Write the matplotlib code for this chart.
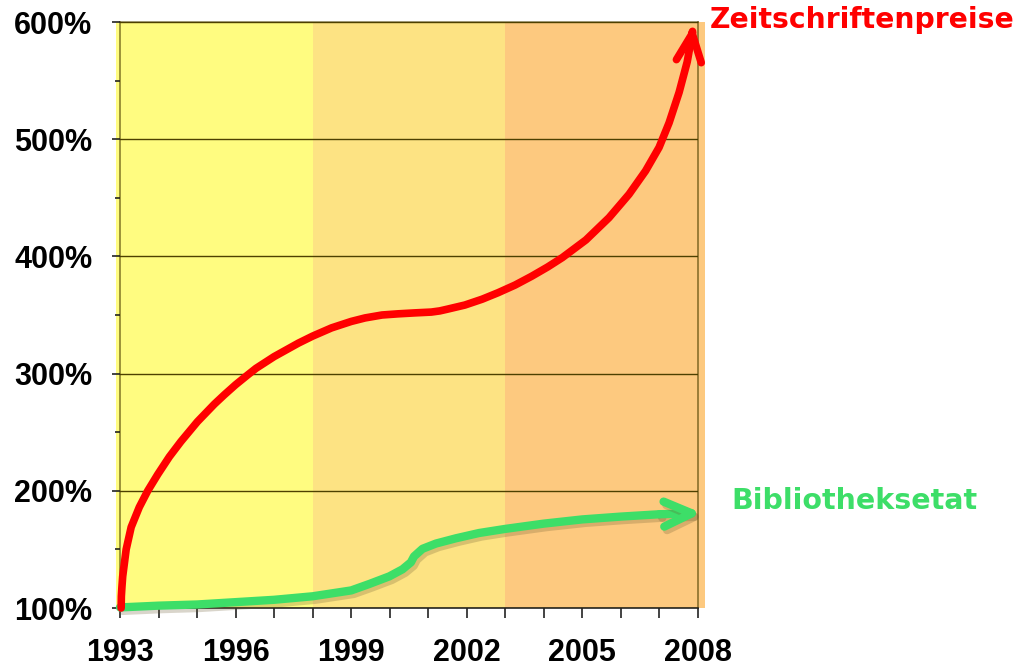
import matplotlib
matplotlib.use("Agg")
import matplotlib.pyplot as plt
import matplotlib.patheffects as pe
from matplotlib.ticker import FixedLocator, MultipleLocator, FuncFormatter

# ---- data -----------------------------------------------------------
years_preise = [1993.03, 1993.035, 1993.05, 1993.07, 1993.16, 1993.29, 1993.5,
                1993.72, 1993.98, 1994.28, 1994.58, 1995.01, 1995.45, 1995.71,
                1996.0, 1996.3, 1996.53, 1997.0, 1997.63, 1998.0, 1998.49,
                1999.0, 1999.36, 1999.8, 2000.22, 2000.65, 2001.08, 2001.3,
                2001.5, 2001.95, 2002.4, 2002.81, 2003.25, 2003.68, 2004.1,
                2004.48, 2005.09, 2005.69, 2006.21, 2006.64, 2006.99, 2007.25,
                2007.51, 2007.72, 2007.85, 2007.88]
vals_preise = [100, 110, 118, 127, 150, 169, 186,
               200, 214, 229, 242, 259, 274, 282,
               290.5, 298.5, 304.5, 314.5, 326, 332, 339,
               344.5, 347.5, 350, 351, 351.8, 352.5, 353.5,
               355, 358.5, 363.5, 369, 375.5, 383, 391,
               399, 414, 433, 453, 473, 493, 514,
               540, 566, 590, 598]

years_etat = [1993, 1994, 1995, 1996, 1997, 1998, 1999, 1999.47, 1999.99,
              2000.33, 2000.55, 2000.63, 2000.85, 2001.2, 2001.72, 2002.32,
              2003, 2004, 2005, 2006, 2007, 2008.1]
vals_etat = [100.5, 102, 103, 105, 107, 110, 115, 120.5, 127,
             133, 139, 144, 150.5, 155, 159.5, 164,
             167.5, 172, 175.6, 178, 180, 181]

tick_years = [1993, 1996, 1999, 2002, 2005, 2008]
band_edges = [1992.9, 1998, 2003, 2008.18]
band_colors = ['#FFFC80', '#FDE383', '#FDC97F']

label_preise = 'Zeitschriftenpreise'
label_etat = 'Bibliotheksetat'
red = '#FF0000'
green = '#3DDE68'

# ---- figure ---------------------------------------------------------
fig = plt.figure(figsize=(10.19, 6.69), dpi=100)
ax = fig.add_axes([120/1019, 61/669, 578/1019, 586/669])
ax.set_xlim(1993, 2008)
ax.set_ylim(100, 600)

for i, c in enumerate(band_colors):
  ax.axvspan(band_edges[i], band_edges[i+1], color=c, lw=0, zorder=0,
             clip_on=False)

grid_col = (0.30, 0.25, 0.0, 0.65)
ax.yaxis.set_major_locator(MultipleLocator(100))
ax.yaxis.set_minor_locator(MultipleLocator(50))
ax.xaxis.set_major_locator(FixedLocator(tick_years))
ax.xaxis.set_minor_locator(MultipleLocator(1))
ax.grid(True, axis='y', which='major', color=grid_col, lw=1.0, zorder=1)
ax.set_axisbelow(False)

for s in ax.spines.values():
  s.set_color(grid_col)
  s.set_linewidth(1.2)
ax.spines['bottom'].set_color('#222222')

ax.tick_params(axis='y', which='major', length=6, width=1.2, color='#222222',
               pad=14)
ax.tick_params(axis='y', which='minor', length=3.5, width=1.2, color='#222222')
ax.tick_params(axis='x', which='both', length=7.5, width=1.2, color='#222222',
               pad=14)
ax.yaxis.set_major_formatter(FuncFormatter(lambda v, p: '%d%%' % v))
ax.xaxis.set_major_formatter(FuncFormatter(lambda v, p: '%d' % v))
for lab in ax.get_xticklabels() + ax.get_yticklabels():
  lab.set_fontfamily('Liberation Sans')
  lab.set_fontweight('bold')
  lab.set_fontsize(22)

shadow = [pe.SimpleLineShadow(offset=(2, -2.5), shadow_color='#6a5a30',
                              alpha=0.25), pe.Normal()]

# lines
ax.plot(years_etat[:-1], vals_etat[:-1], color=green, lw=6,
        solid_capstyle='round', solid_joinstyle='round', zorder=3,
        clip_on=False, path_effects=shadow)
ax.annotate('', xy=(years_etat[-1], vals_etat[-1]),
            xytext=(years_etat[-2], vals_etat[-2]),
            arrowprops=dict(arrowstyle='->,head_length=1.0,head_width=0.45',
                            color=green, lw=6, mutation_scale=20,
                            shrinkA=0, shrinkB=0, capstyle='round',
                            joinstyle='round', path_effects=shadow),
            zorder=3, annotation_clip=False)

ax.plot(years_preise[:-1], vals_preise[:-1], color=red, lw=5.5,
        solid_capstyle='round', solid_joinstyle='round', zorder=4,
        clip_on=False)
ax.annotate('', xy=(years_preise[-1], vals_preise[-1]),
            xytext=(years_preise[-2], vals_preise[-2]),
            arrowprops=dict(arrowstyle='->,head_length=1.0,head_width=0.45',
                            color=red, lw=5.5, mutation_scale=20,
                            shrinkA=0, shrinkB=0, capstyle='round',
                            joinstyle='round'),
            zorder=4, annotation_clip=False)

# labels
fig.text(710/1019, 1 - 20/669, label_preise, color=red, fontsize=20.3,
         fontweight='bold', family='DejaVu Sans', va='center', ha='left')
fig.text(731/1019, 1 - 501/669, label_etat, color=green, fontsize=20.5,
         fontweight='bold', family='DejaVu Sans', va='center', ha='left')

fig.savefig('out.png', dpi=100)
